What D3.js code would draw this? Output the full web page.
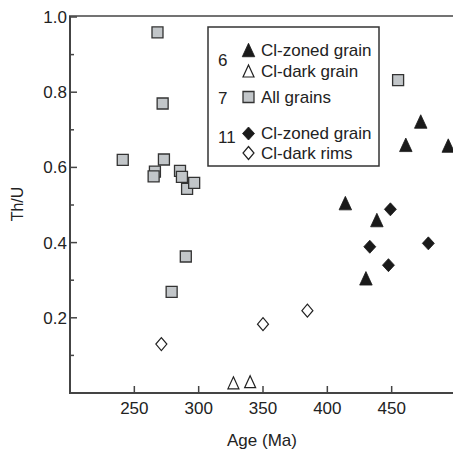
<!DOCTYPE html>
<html>
<head>
<meta charset="utf-8">
<script src="https://cdn.jsdelivr.net/npm/d3@7"></script>
<style>
  html, body { margin: 0; padding: 0; background: #fff; }
  svg { display: block; }
  text { font-family: "Liberation Sans", Arial, Helvetica, sans-serif; fill: #222; }
</style>
</head>
<body>
<svg id="chart" width="453" height="452"></svg>
<script>
// ---- Data ----
const squareAge = [268, 272, 241, 273, 266, 265, 285.5, 287, 291, 296.5, 290, 279, 455];
const squareThU = [0.959, 0.770, 0.620, 0.621, 0.589, 0.576, 0.591, 0.575, 0.543, 0.559, 0.363, 0.269, 0.832];

const filledTriAge = [472.6, 461, 494, 414, 438.5, 430];
const filledTriThU = [0.722, 0.660, 0.658, 0.505, 0.460, 0.305];

const openTriAge = [327, 340];
const openTriThU = [0.027, 0.030];

const filledDiaAge = [449, 433, 478.5, 447.5];
const filledDiaThU = [0.4885, 0.389, 0.398, 0.340];

const openDiaAge = [271, 350, 384.5];
const openDiaThU = [0.130, 0.183, 0.219];

const xTicks = [250, 300, 350, 400, 450];
const yTicks = [0.2, 0.4, 0.6, 0.8, 1.0];
const yMinorTicks = [0.1, 0.3, 0.5, 0.7, 0.9];

const legendGroups = ["6", "7", "11"];
const legendLabels = ["Cl-zoned grain", "Cl-dark grain", "All grains", "Cl-zoned grain", "Cl-dark rims"];
const legendSymbols = ["triFilled", "triOpen", "square", "diaFilled", "diaOpen"];

const xTitle = "Age (Ma)";
const yTitle = "Th/U";

// ---- Layout ----
const svg = d3.select("#chart");
const mLeft = 70, mRight = 456, mTop = 17, mBottom = 393;
const x = d3.scaleLinear().domain([200, 500]).range([mLeft, mRight]);
const y = d3.scaleLinear().domain([0, 1]).range([mBottom, mTop]);

const axisColor = "#444";
const fontSize = 17;
const capOff = 5.9;

// Symbol path generators
function triPath(w, h) {
  return `M0,${-h/2}L${w/2},${h/2}L${-w/2},${h/2}Z`;
}
function diaPath(w, h) {
  return `M0,${-h/2}L${w/2},0L0,${h/2}L${-w/2},0Z`;
}
function sqPath(s) {
  return `M${-s/2},${-s/2}h${s}v${s}h${-s}Z`;
}
const symStyle = {
  triFilled: { d: triPath(12.5, 13.5), fill: "#1a1a1a", stroke: "#1a1a1a", sw: 0.8 },
  triOpen:   { d: triPath(11, 12), fill: "#fff", stroke: "#222", sw: 1.2 },
  square:    { d: sqPath(11), fill: "#c2c6c9", stroke: "#333", sw: 1.3 },
  diaFilled: { d: diaPath(12, 13), fill: "#1a1a1a", stroke: "#1a1a1a", sw: 0.8 },
  diaOpen:   { d: diaPath(11, 13), fill: "#fff", stroke: "#222", sw: 1.2 }
};

// ---- Axes ----
svg.append("line").attr("x1", mLeft).attr("x2", mLeft).attr("y1", mTop - 1).attr("y2", mBottom)
  .attr("stroke", axisColor).attr("stroke-width", 2);
svg.append("line").attr("x1", mLeft - 1).attr("x2", 453).attr("y1", mTop - 1).attr("y2", mTop - 1)
  .attr("stroke", axisColor).attr("stroke-width", 1.5);
svg.append("line").attr("x1", mLeft - 1).attr("x2", 453).attr("y1", mBottom).attr("y2", mBottom)
  .attr("stroke", axisColor).attr("stroke-width", 2);

// y ticks
svg.selectAll(".ytick").data(yTicks).enter().append("line")
  .attr("x1", mLeft).attr("x2", mLeft + 7)
  .attr("y1", d => y(d)).attr("y2", d => y(d))
  .attr("stroke", axisColor).attr("stroke-width", 1.5);
svg.selectAll(".yminor").data(yMinorTicks).enter().append("line")
  .attr("x1", mLeft).attr("x2", mLeft + 4)
  .attr("y1", d => y(d)).attr("y2", d => y(d))
  .attr("stroke", axisColor).attr("stroke-width", 1.5);
svg.selectAll(".ylab").data(yTicks).enter().append("text")
  .attr("x", mLeft - 3).attr("y", d => y(d) + capOff)
  .attr("text-anchor", "end").attr("font-size", fontSize)
  .text(d => d3.format(".1f")(d));

// x ticks
svg.selectAll(".xtick").data(xTicks).enter().append("line")
  .attr("x1", d => x(d)).attr("x2", d => x(d))
  .attr("y1", mBottom).attr("y2", mBottom - 7)
  .attr("stroke", axisColor).attr("stroke-width", 1.5);
svg.selectAll(".xlab").data(xTicks).enter().append("text")
  .attr("x", d => x(d)).attr("y", 414)
  .attr("text-anchor", "middle").attr("font-size", fontSize)
  .text(d => d);

// titles
svg.append("text").attr("x", 262).attr("y", 446).attr("text-anchor", "middle")
  .attr("font-size", fontSize).text(xTitle);
svg.append("text").attr("transform", "translate(23,204) rotate(-90)")
  .attr("text-anchor", "middle").attr("font-size", 16).text(yTitle);

// ---- Points ----
function drawSeries(ages, vals, key) {
  const s = symStyle[key];
  svg.append("g").selectAll("path").data(ages.map((a, i) => [a, vals[i]])).enter()
    .append("path")
    .attr("d", s.d)
    .attr("transform", d => `translate(${x(d[0])},${y(d[1])})`)
    .attr("fill", s.fill).attr("stroke", s.stroke).attr("stroke-width", s.sw);
}
drawSeries(squareAge, squareThU, "square");
drawSeries(openDiaAge, openDiaThU, "diaOpen");
drawSeries(openTriAge, openTriThU, "triOpen");
drawSeries(filledDiaAge, filledDiaThU, "diaFilled");
drawSeries(filledTriAge, filledTriThU, "triFilled");

// ---- Legend ----
const lg = svg.append("g");
lg.append("rect").attr("x", 208).attr("y", 27).attr("width", 171).attr("height", 139)
  .attr("fill", "#fff").attr("stroke", "#333").attr("stroke-width", 1.5);
const rowY = [50, 71, 97, 133.5, 153];
const groupY = [60, 98, 137.5];
legendGroups.forEach((g, i) => {
  lg.append("text").attr("x", 218).attr("y", groupY[i] + capOff)
    .attr("font-size", fontSize).text(g);
});
legendLabels.forEach((lab, i) => {
  const s = symStyle[legendSymbols[i]];
  lg.append("path").attr("d", s.d)
    .attr("transform", `translate(248.5,${rowY[i]})`)
    .attr("fill", s.fill).attr("stroke", s.stroke).attr("stroke-width", s.sw);
  lg.append("text").attr("x", 261).attr("y", rowY[i] + capOff)
    .attr("font-size", fontSize).text(lab);
});
</script>
</body>
</html>
